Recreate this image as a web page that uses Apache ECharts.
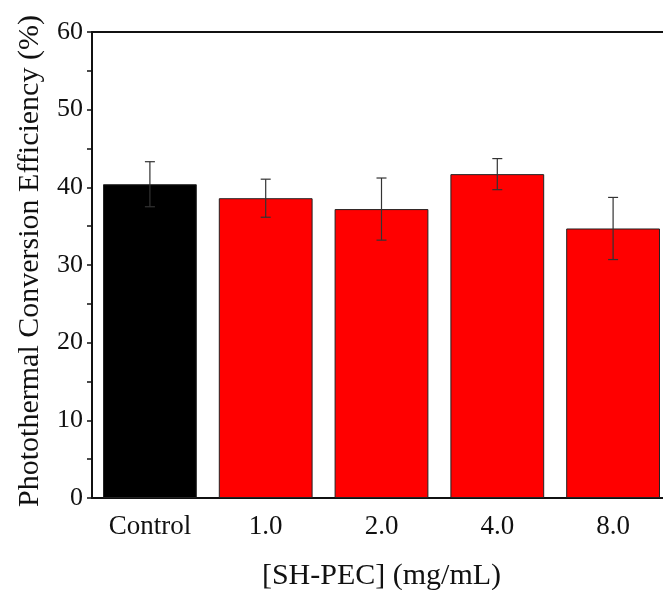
<!DOCTYPE html>
<html>
<head>
<meta charset="utf-8">
<script src="https://cdn.jsdelivr.net/npm/echarts@6/dist/echarts.min.js"></script>
<style>
  html, body { margin: 0; padding: 0; background: #fff; }
  #main { width: 663px; height: 590px; }
</style>
</head>
<body>
<div id="main"></div>
<script>
// data
var categories = ['Control', '1.0', '2.0', '4.0', '8.0'];
var efficiency = [40.4, 38.6, 37.2, 41.7, 34.7];
var errors = [2.9, 2.45, 4.0, 2.0, 4.0];
var barColors = ['#000000', '#ff0000', '#ff0000', '#ff0000', '#ff0000'];

var chart = echarts.init(document.getElementById('main'));
var font = '"Liberation Serif", "Times New Roman", serif';

var errData = categories.map(function (c, i) {
  return [i, efficiency[i] - errors[i], efficiency[i] + errors[i]];
});

var option = {
  animation: false,
  grid: { left: 92, right: -8, top: 32, bottom: 92, outerBoundsMode: 'none' },
  xAxis: [{
    type: 'category',
    data: categories,
    name: '[SH-PEC] (mg/mL)',
    nameLocation: 'middle',
    nameGap: 63,
    nameTextStyle: { fontFamily: font, fontSize: 30, color: '#111' },
    axisLine: { lineStyle: { color: '#111', width: 2 } },
    axisTick: { alignWithLabel: true, length: 6, lineStyle: { color: '#111', width: 1.5 } },
    axisLabel: { fontFamily: font, fontSize: 27, color: '#111', margin: 15 }
  }, {
    // top frame line
    type: 'category',
    data: categories,
    position: 'top',
    axisLine: { show: true, lineStyle: { color: '#111', width: 2 } },
    axisTick: { show: false },
    axisLabel: { show: false }
  }],
  yAxis: {
    type: 'value',
    min: 0,
    max: 60,
    interval: 10,
    name: 'Photothermal Conversion Efficiency (%)',
    nameLocation: 'middle',
    nameGap: 47,
    nameTextStyle: { fontFamily: font, fontSize: 30, color: '#111', padding: [0, 0, 0, 8] },
    axisLine: { show: true, lineStyle: { color: '#111', width: 2 } },
    axisTick: { show: true, length: 5, lineStyle: { color: '#111', width: 1.5 } },
    minorTick: { show: true, splitNumber: 2, length: 5, lineStyle: { color: '#111', width: 1.5 } },
    splitLine: { show: false },
    axisLabel: { fontFamily: font, fontSize: 26, color: '#111', margin: 9 }
  },
  series: [
    {
      type: 'bar',
      barCategoryGap: '19%',
      data: efficiency.map(function (v, i) {
        return { value: v, itemStyle: { color: barColors[i] } };
      }),
      itemStyle: { borderColor: '#222', borderWidth: 1 }
    },
    {
      type: 'custom',
      data: errData,
      z: 5,
      renderItem: function (params, api) {
        var x = api.coord([api.value(0), 0])[0];
        var lo = api.coord([api.value(0), api.value(1)])[1];
        var hi = api.coord([api.value(0), api.value(2)])[1];
        var cap = 5;
        var style = { stroke: '#333', lineWidth: 1.2 };
        return {
          type: 'group',
          children: [
            { type: 'line', shape: { x1: x, y1: lo, x2: x, y2: hi }, style: style },
            { type: 'line', shape: { x1: x - cap, y1: hi, x2: x + cap, y2: hi }, style: style },
            { type: 'line', shape: { x1: x - cap, y1: lo, x2: x + cap, y2: lo }, style: style }
          ]
        };
      }
    }
  ]
};

chart.setOption(option);
</script>
</body>
</html>
